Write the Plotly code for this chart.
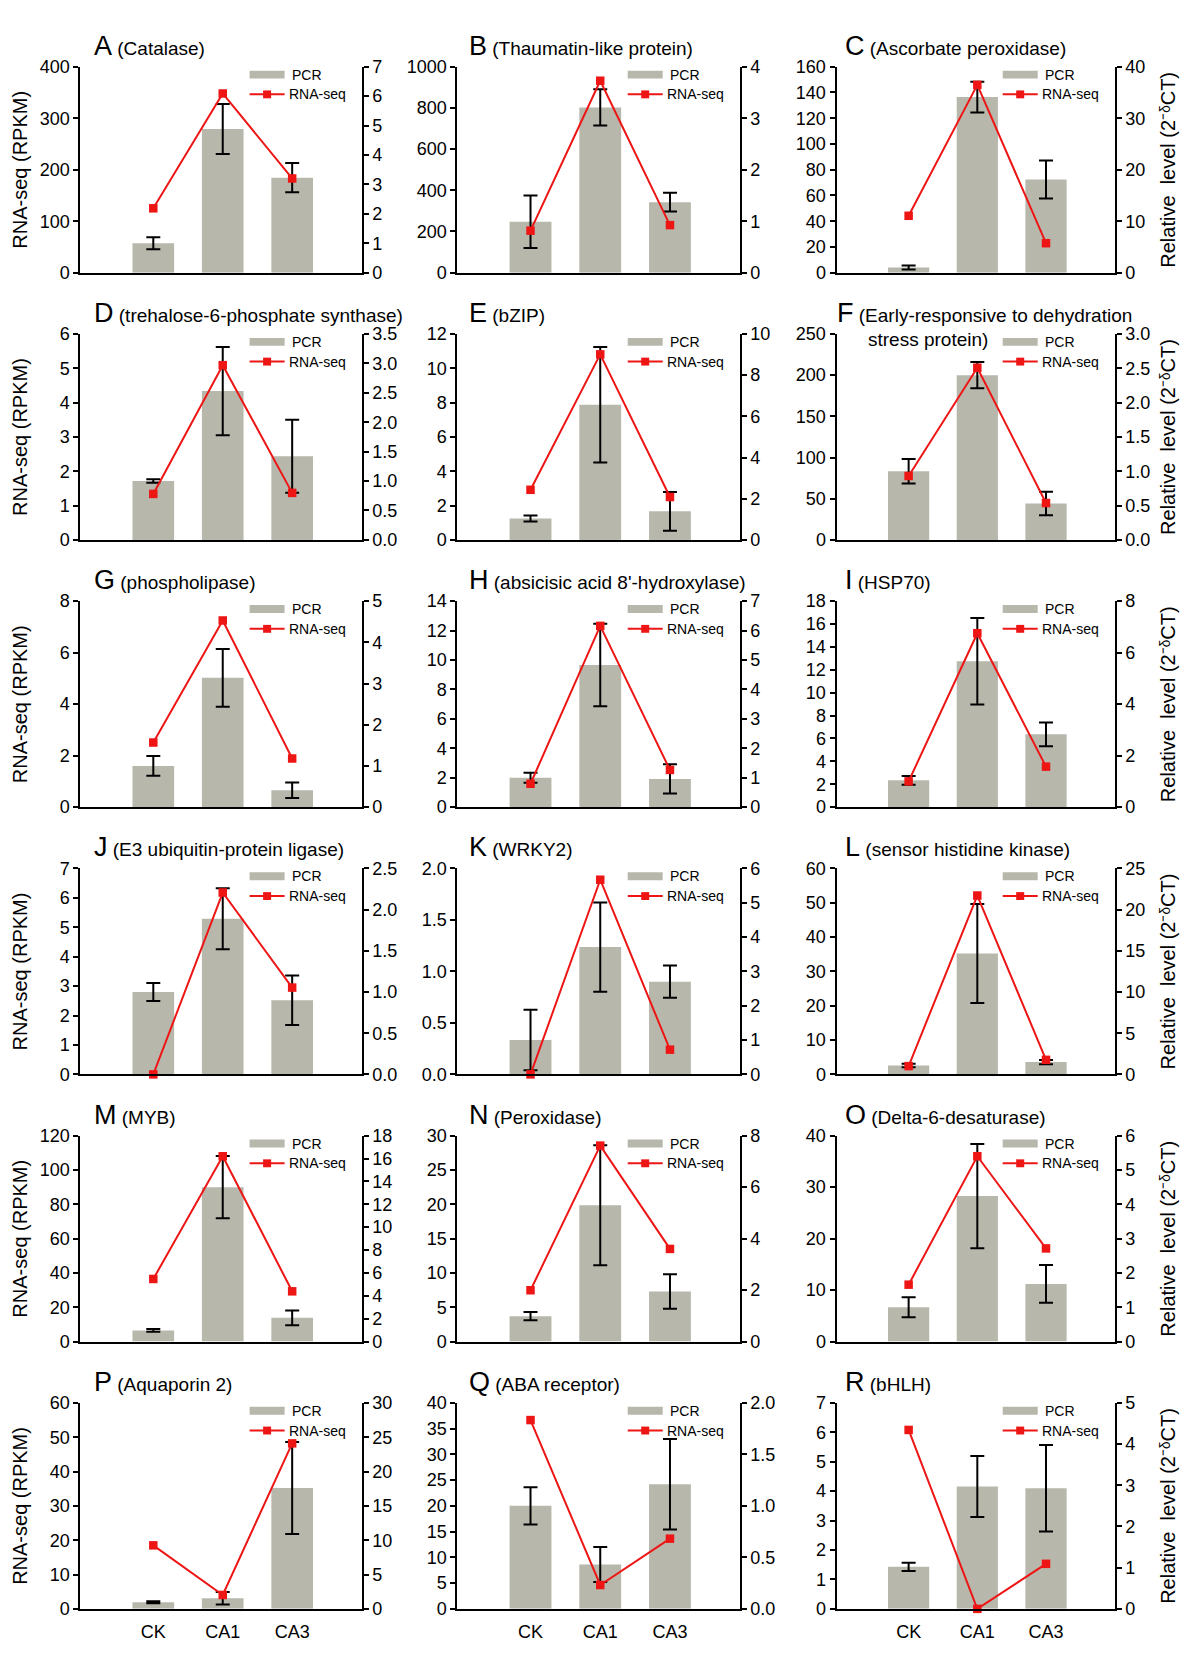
import plotly.graph_objects as go

PAGE_W, PAGE_H = 1200, 1672
PAGE_OFF = 8  # default body margin of the html page
W, H = PAGE_W - 2 * PAGE_OFF, PAGE_H - 2 * PAGE_OFF  # figure fits the window exactly
FONT = "Liberation Sans, Arial, Helvetica, sans-serif"
BAR_COLOR = "#b8b7ac"
RED = "#ee1515"

# ---------------- data ----------------
categories = ["CK", "CA1", "CA3"]
letters = list("ABCDEFGHIJKLMNOPQR")
genes = [
    "(Catalase)", "(Thaumatin-like protein)", "(Ascorbate peroxidase)",
    "(trehalose-6-phosphate synthase)", "(bZIP)", "(Early-responsive to dehydration stress protein)",
    "(phospholipase)", "(absicisic acid 8'-hydroxylase)", "(HSP70)",
    "(E3 ubiquitin-protein ligase)", "(WRKY2)", "(sensor histidine kinase)",
    "(MYB)", "(Peroxidase)", "(Delta-6-desaturase)",
    "(Aquaporin 2)", "(ABA receptor)", "(bHLH)",
]

# PCR relative level (2^-ddCT), right axis
pcr_mean = [
    [1.00, 4.88, 3.23], [0.99, 3.21, 1.37], [1.00, 34.1, 18.1],
    [1.00, 2.53, 1.42], [1.04, 6.56, 1.39], [1.00, 2.40, 0.53],
    [1.00, 3.14, 0.41], [1.00, 4.83, 0.96], [1.04, 5.67, 2.83],
    [1.00, 1.89, 0.90], [1.00, 3.71, 2.70], [1.08, 14.67, 1.49],
    [0.98, 13.5, 2.08], [0.99, 5.30, 1.95], [1.00, 4.24, 1.68],
    [0.97, 1.54, 17.6], [1.00, 0.43, 1.21], [1.02, 2.97, 2.93],
]
pcr_err = [
    [0.20, 0.85, 0.50], [0.51, 0.35, 0.18], [0.40, 3.0, 3.7],
    [0.03, 0.75, 0.62], [0.15, 2.80, 0.94], [0.18, 0.19, 0.17],
    [0.24, 0.70, 0.19], [0.17, 1.40, 0.50], [0.17, 1.68, 0.46],
    [0.11, 0.37, 0.30], [0.88, 1.30, 0.47], [0.20, 6.0, 0.25],
    [0.12, 2.72, 0.64], [0.16, 2.33, 0.67], [0.29, 1.52, 0.55],
    [0.15, 0.90, 6.7], [0.18, 0.17, 0.44], [0.10, 0.74, 1.05],
]
# RNA-seq RPKM, left axis
rnaseq = [
    [125, 348, 183], [204, 932, 231], [44.2, 145.9, 22.9],
    [1.34, 5.09, 1.37], [2.92, 10.81, 2.50], [77.6, 209, 44.8],
    [2.51, 7.25, 1.89], [1.59, 12.32, 2.53], [2.25, 15.2, 3.54],
    [0.0, 6.18, 2.95], [0.0, 1.89, 0.24], [2.41, 52.1, 4.24],
    [36.5, 108, 29.3], [7.48, 28.55, 13.5], [11.06, 36.0, 18.1],
    [18.5, 4.05, 48.2], [36.66, 4.63, 13.63], [6.08, 0.0, 1.53],
]
left_max = [400, 1000, 160, 6, 12, 250, 8, 14, 18, 7, 2.0, 60, 120, 30, 40, 60, 40, 7]
left_dtick = [100, 200, 20, 1, 2, 50, 2, 2, 2, 1, 0.5, 10, 20, 5, 10, 10, 5, 1]
right_max = [7, 4, 40, 3.5, 10, 3.0, 5, 7, 8, 2.5, 6, 25, 18, 8, 6, 30, 2.0, 5]
right_dtick = [1, 1, 10, 0.5, 2, 0.5, 1, 1, 2, 0.5, 1, 5, 2, 2, 1, 5, 0.5, 1]

# ---------------- layout geometry (page pixels) ----------------
col_left = [80.4, 457.3, 836.5]
col_right = [361.6, 739.7, 1114.7]
ROW0_TOP = 57.3
ROW_STEP = 270.5
row_top = [ROW0_TOP + k * ROW_STEP for k in range(6)]
PLOT_H = 208.5
title_dx = [12, 10, 6]


def px_x(v):
    return (v - PAGE_OFF) / W


def px_y(v):
    return 1 - (v - PAGE_OFF) / H


tickfont = dict(family=FONT, size=18, color="black")
fig = go.Figure()
layout = {}
shapes = []
annotations = []

for i in range(18):
    r, c = divmod(i, 3)
    L, R = col_left[c], col_right[c]
    T = row_top[r]
    B = T + PLOT_H
    xn, yb, yl = i + 1, 2 * i + 1, 2 * i + 2
    xref = "x" if xn == 1 else f"x{xn}"
    ybref = "y" if yb == 1 else f"y{yb}"
    ylref = f"y{yl}"

    fig.add_trace(go.Bar(
        x=categories, y=pcr_mean[i], width=0.6, name="PCR",
        marker=dict(color=BAR_COLOR, line=dict(width=0)),
        error_y=dict(type="data", array=pcr_err[i], color="black", thickness=2, width=7),
        xaxis=xref, yaxis=ybref, showlegend=False, cliponaxis=False,
    ))
    fig.add_trace(go.Scatter(
        x=categories, y=rnaseq[i], mode="lines+markers", name="RNA-seq",
        line=dict(color=RED, width=2),
        marker=dict(symbol="square", size=8.5, color=RED),
        xaxis=xref, yaxis=ylref, showlegend=False, cliponaxis=False,
    ))

    layout["xaxis" if xn == 1 else f"xaxis{xn}"] = dict(
        domain=[px_x(L), px_x(R)], range=[-1.05, 3.0], type="category",
        anchor=ybref, showline=True, linecolor="black", linewidth=2,
        ticks="", showticklabels=(r == 5), tickfont=tickfont,
        ticklabelstandoff=6, showgrid=False, zeroline=False,
    )
    rfmt = ".1f" if right_dtick[i] < 1 else ""
    lfmt = ".1f" if left_dtick[i] < 1 else ""
    layout["yaxis" if yb == 1 else f"yaxis{yb}"] = dict(
        domain=[px_y(B), px_y(T)], range=[0, right_max[i]], dtick=right_dtick[i], tick0=0,
        side="right", anchor=xref, showline=True, linecolor="black", linewidth=2,
        ticks="outside", ticklen=5, tickwidth=2, tickcolor="black", tickfont=tickfont,
        tickformat=rfmt, showgrid=False, zeroline=False,
    )
    layout[f"yaxis{yl}"] = dict(
        range=[0, left_max[i]], dtick=left_dtick[i], tick0=0, overlaying=ybref,
        side="left", anchor=xref, showline=True, linecolor="black", linewidth=2,
        ticks="outside", ticklen=5, tickwidth=2, tickcolor="black", tickfont=tickfont,
        tickformat=lfmt, showgrid=False, zeroline=False,
    )

    # panel title
    gene = genes[i]
    line2 = None
    if len(gene) > 40:
        parts = gene.rsplit(" ", 2)
        gene, line2 = parts[0], parts[1] + " " + parts[2]
    tx = L + title_dx[c] if line2 is None else L - 2
    annotations.append(dict(
        text=f"<span style='font-size:27px'>{letters[i]}</span> {gene}",
        x=px_x(tx), y=px_y(T - 4), xref="paper", yref="paper",
        xanchor="left", yanchor="bottom", showarrow=False,
        font=dict(family=FONT, size=19, color="black"),
    ))
    if line2 is not None:
        annotations.append(dict(
            text=line2, x=px_x(L + 29), y=px_y(T + 18), xref="paper", yref="paper",
            xanchor="left", yanchor="bottom", showarrow=False,
            font=dict(family=FONT, size=19, color="black"),
        ))

    # axis titles
    if c == 0:
        annotations.append(dict(
            text="RNA-seq (RPKM)", textangle=-90, x=px_x(20), y=px_y(T + PLOT_H / 2),
            xref="paper", yref="paper", xanchor="center", yanchor="middle", showarrow=False,
            font=dict(family=FONT, size=20, color="black"),
        ))
    if c == 2:
        annotations.append(dict(
            text="Relative  level (2\u207b\u1d5fCT)", textangle=-90, x=px_x(1168),
            y=px_y(T + PLOT_H / 2), xref="paper", yref="paper", xanchor="center",
            yanchor="middle", showarrow=False, font=dict(family=FONT, size=20, color="black"),
        ))

    # legend
    shapes.append(dict(type="rect", xref="paper", yref="paper",
                       x0=px_x(R - 112), x1=px_x(R - 77), y0=px_y(T + 12), y1=px_y(T + 4),
                       fillcolor=BAR_COLOR, line=dict(width=0)))
    annotations.append(dict(text="PCR", x=px_x(R - 72), y=px_y(T + 8), xref="paper", yref="paper",
                            xanchor="left", yanchor="middle", showarrow=False,
                            font=dict(family=FONT, size=14, color="black")))
    shapes.append(dict(type="line", xref="paper", yref="paper",
                       x0=px_x(R - 112), x1=px_x(R - 77), y0=px_y(T + 28), y1=px_y(T + 28),
                       line=dict(color=RED, width=2)))
    shapes.append(dict(type="rect", xref="paper", yref="paper",
                       x0=px_x(R - 98.5), x1=px_x(R - 90.5), y0=px_y(T + 32), y1=px_y(T + 24),
                       fillcolor=RED, line=dict(width=0)))
    annotations.append(dict(text="RNA-seq", x=px_x(R - 75), y=px_y(T + 28), xref="paper", yref="paper",
                            xanchor="left", yanchor="middle", showarrow=False,
                            font=dict(family=FONT, size=14, color="black")))

fig.update_layout(
    width=W, height=H, margin=dict(l=0, r=0, t=0, b=0),
    paper_bgcolor="white", plot_bgcolor="white",
    font=dict(family=FONT, color="black"),
    showlegend=False, shapes=shapes, annotations=annotations,
    **layout,
)
fig.write_html("out.html")
